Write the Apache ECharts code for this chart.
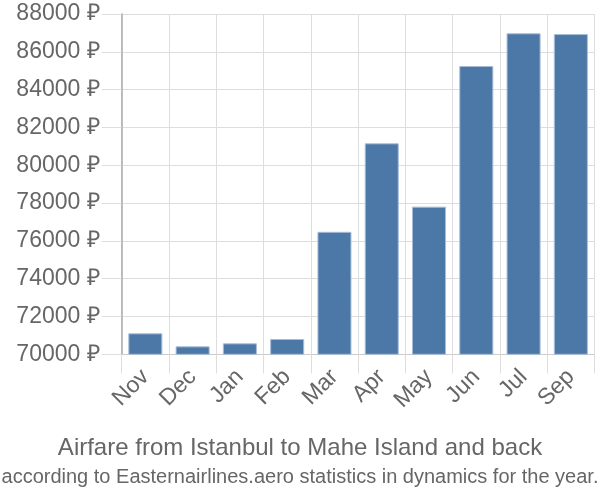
<!DOCTYPE html>
<html>
<head>
<meta charset="utf-8">
<script src="https://cdn.jsdelivr.net/npm/echarts@6/dist/echarts.min.js"></script>
<style>html,body{margin:0;padding:0;background:#fff}#c{width:600px;height:500px}</style>
</head>
<body>
<div id="c"></div>
<script>
const categories = ['Nov', 'Dec', 'Jan', 'Feb', 'Mar', 'Apr', 'May', 'Jun', 'Jul', 'Sep'];
const prices = [71110, 70420, 70580, 70810, 76480, 81160, 77810, 85250, 86980, 86940];
const yMin = 70000, yMax = 88000, yStep = 2000;
const titleText = 'Airfare from Istanbul to Mahe Island and back';
const subtitleText = 'according to Easternairlines.aero statistics in dynamics for the year.';

const chart = echarts.init(document.getElementById('c'), null, {renderer: 'canvas'});
const font = 'Liberation Sans, Arial, sans-serif';
chart.setOption({
  animation: false,
  textStyle: {fontFamily: font},
  title: [
    {text: titleText, left: 'center', top: 431, textStyle: {fontSize: 24, fontWeight: 'normal', color: '#666', fontFamily: font}},
    {text: subtitleText, left: 'center', top: 462, textStyle: {fontSize: 20, fontWeight: 'normal', color: '#666', fontFamily: font}}
  ],
  grid: {left: 121.7, right: 5.5, top: 14, bottom: 145.7, containLabel: false},
  xAxis: {
    type: 'category',
    data: categories,
    boundaryGap: true,
    axisLine: {show: true, lineStyle: {color: '#ccc', width: 1}},
    axisTick: {show: true, length: 19, lineStyle: {color: '#ddd', width: 1}},
    splitLine: {show: true, lineStyle: {color: '#ddd', width: 1}},
    axisLabel: {rotate: 45, fontSize: 23, color: '#666', margin: 19, fontFamily: font, interval: 0}
  },
  yAxis: {
    type: 'value',
    min: yMin, max: yMax, interval: yStep,
    axisLine: {show: true, lineStyle: {color: '#aaa', width: 1.5}},
    axisTick: {show: true, length: 20, lineStyle: {color: '#ddd', width: 1}},
    splitLine: {show: true, lineStyle: {color: '#ddd', width: 1}},
    axisLabel: {formatter: function (v) { return String(v) + ' ₽'; }, fontSize: 23, color: '#666', margin: 22, fontFamily: font}
  },
  series: [{
    type: 'bar',
    data: prices,
    barCategoryGap: '28%',
    itemStyle: {color: '#4c78a8', borderColor: '#a9bdd7', borderWidth: 1}
  }]
});
</script>
</body>
</html>
